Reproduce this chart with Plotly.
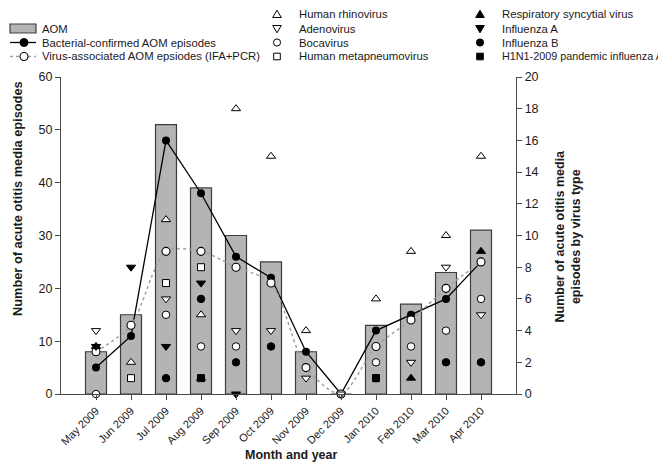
import plotly.graph_objects as go

# ---------------- data ----------------
months = ["May 2009", "Jun 2009", "Jul 2009", "Aug 2009", "Sep 2009", "Oct 2009",
          "Nov 2009", "Dec 2009", "Jan 2010", "Feb 2010", "Mar 2010", "Apr 2010"]
aom = [8, 15, 51, 39, 30, 25, 8, 0, 13, 17, 23, 31]
bacterial = [5, 11, 48, 38, 26, 22, 8, 0, 12, 15, 18, 25]
virus_assoc = [8, 13, 27, 27, 24, 21, 5, 0, 9, 14, 20, 25]

# virus types (right axis)
rhinovirus = [None, 2, 11, 5, 18, 15, 4, None, 6, 9, 10, 15]
adenovirus = [4, None, 6, None, 4, 4, 1, 0, None, 2, 8, 5]
bocavirus = [0, None, 5, 3, 3, None, None, None, 2, 3, 4, 6]
metapneumovirus = [None, 1, 7, 8, None, None, None, None, None, None, None, None]
rsv = [3, None, None, 1, None, None, None, None, None, 1, None, 9]
influenza_a = [3, 8, 3, 7, 0, None, None, None, None, None, None, None]
influenza_b = [None, None, 1, 6, 2, 3, None, None, 1, None, 2, 2]
h1n1 = [None, None, None, 1, None, None, None, None, 1, None, None, None]

left_ticks = [0, 10, 20, 30, 40, 50, 60]
right_ticks = [0, 2, 4, 6, 8, 10, 12, 14, 16, 18, 20]

# ---------------- layout helpers ----------------
W, H = 666, 472
L, R, T, B = 53, 508, 69, 386
FONT = "Liberation Sans, Arial, sans-serif"
INK = "#1a1a1a"


def px_x(px):
    return (px - L) / (R - L)


def px_y(py):
    return (B - py) / (B - T)


x = list(range(len(months)))
fig = go.Figure()

fig.add_trace(go.Bar(
    x=x, y=aom, name="AOM", width=0.6, showlegend=False,
    marker=dict(color="#b4b4b4", line=dict(color="#3c3c3c", width=1.2))))

fig.add_trace(go.Scatter(
    x=x, y=bacterial, name="Bacterial-confirmed AOM episodes", mode="lines+markers",
    line=dict(color="#000000", width=1.3), showlegend=False,
    marker=dict(symbol="circle", size=8, color="#000000"), cliponaxis=False))

fig.add_trace(go.Scatter(
    x=x, y=virus_assoc, name="Virus-associated AOM epsiodes (IFA+PCR)", mode="lines+markers",
    line=dict(color="#a0a0a0", width=1.5, dash="dot", shape="spline", smoothing=0.8),
    marker=dict(symbol="circle", size=8, color="#ffffff", line=dict(color="#000000", width=1.1)),
    cliponaxis=False, showlegend=False))

virus_series = [
    ("Human rhinovirus", rhinovirus, "triangle-up", "#ffffff", 8),
    ("Adenovirus", adenovirus, "triangle-down", "#ffffff", 8),
    ("Bocavirus", bocavirus, "circle", "#ffffff", 7.5),
    ("Human metapneumovirus", metapneumovirus, "square", "#ffffff", 7),
    ("Respiratory syncytial virus", rsv, "triangle-up", "#000000", 8),
    ("Influenza A", influenza_a, "triangle-down", "#000000", 8),
    ("Influenza B", influenza_b, "circle", "#000000", 7.5),
    ("H1N1-2009 pandemic influenza A", h1n1, "square", "#000000", 7),
]

for name, vals, sym, col, size in virus_series:
    fig.add_trace(go.Scatter(
        x=x, y=vals, name=name, mode="markers", yaxis="y2", showlegend=False,
        marker=dict(symbol=sym, size=size, color=col, line=dict(color="#000000", width=1)),
        cliponaxis=False))

# ---------------- legend (keys + labels, paper coordinates) ----------------
shapes = []
annotations = []


def key_path(cx, cy, sym, fill):
    if sym in ("triangle-up", "triangle-down"):
        s = -1 if sym == "triangle-up" else 1
        pts = [(cx, cy + s * 4.3), (cx - 4.3, cy - s * 3.0), (cx + 4.3, cy - s * 3.0)]
        path = "M{},{} L{},{} L{},{} Z".format(*[v for p in pts for v in (px_x(p[0]), px_y(p[1]))])
        return dict(type="path", xref="paper", yref="paper", path=path, fillcolor=fill,
                    line=dict(color="#000000", width=1))
    if sym == "circle":
        r = 3.6
        return dict(type="circle", xref="paper", yref="paper", x0=px_x(cx - r), x1=px_x(cx + r),
                    y0=px_y(cy + r), y1=px_y(cy - r), fillcolor=fill, line=dict(color="#000000", width=1))
    r = 3.3
    return dict(type="rect", xref="paper", yref="paper", x0=px_x(cx - r), x1=px_x(cx + r),
                y0=px_y(cy + r), y1=px_y(cy - r), fillcolor=fill, line=dict(color="#000000", width=1))


def label(text, left_px, cy, size=11.3):
    annotations.append(dict(text=text, xref="paper", yref="paper", x=px_x(left_px - 2), y=px_y(cy),
                            xanchor="left", yanchor="middle", showarrow=False,
                            font=dict(family=FONT, size=size, color=INK)))


# column 1
c1_rows = [20.5, 34.5, 48.5]
shapes.append(dict(type="rect", xref="paper", yref="paper", x0=px_x(2), x1=px_x(28),
                   y0=px_y(c1_rows[0] + 4.5), y1=px_y(c1_rows[0] - 4.5),
                   fillcolor="#b4b4b4", line=dict(color="#3c3c3c", width=1.2)))
label("AOM", 34, c1_rows[0])
shapes.append(dict(type="line", xref="paper", yref="paper", x0=px_x(2), x1=px_x(28),
                   y0=px_y(c1_rows[1]), y1=px_y(c1_rows[1]), line=dict(color="#000000", width=1.3)))
shapes.append(dict(type="circle", xref="paper", yref="paper", x0=px_x(12), x1=px_x(20),
                   y0=px_y(c1_rows[1] + 4), y1=px_y(c1_rows[1] - 4), fillcolor="#000000",
                   line=dict(color="#000000", width=1)))
label("Bacterial-confirmed AOM episodes", 34, c1_rows[1])
shapes.append(dict(type="line", xref="paper", yref="paper", x0=px_x(2), x1=px_x(28),
                   y0=px_y(c1_rows[2]), y1=px_y(c1_rows[2]),
                   line=dict(color="#a0a0a0", width=1.5, dash="dot")))
shapes.append(dict(type="circle", xref="paper", yref="paper", x0=px_x(12), x1=px_x(20),
                   y0=px_y(c1_rows[2] + 4), y1=px_y(c1_rows[2] - 4), fillcolor="#ffffff",
                   line=dict(color="#000000", width=1.1)))
label("Virus-associated AOM epsiodes (IFA+PCR)", 34, c1_rows[2])

# columns 2 and 3
rows = [6.5, 20.5, 34.5, 48.5]
for i, (name, vals, sym, col, size) in enumerate(virus_series):
    key_x, text_x = (269, 291) if i < 4 else (472, 494)
    cy = rows[i % 4]
    shapes.append(key_path(key_x, cy, sym, col))
    label(name, text_x, cy, size=11.3 if i < 7 else 10.8)

# axis titles
title_font = dict(family=FONT, size=12.5, weight="bold", color=INK)
annotations += [
    dict(text="Number of acute otitis media episodes", textangle=-90,
         xref="paper", yref="paper", x=px_x(9), y=px_y(191), xanchor="center", yanchor="middle",
         showarrow=False, font=dict(family=FONT, size=12.8, weight="bold", color=INK)),
    dict(text="Number of acute otitis media<br>episodes by virus type", textangle=-90,
         xref="paper", yref="paper", x=px_x(559.5), y=px_y(228), xanchor="center", yanchor="middle",
         showarrow=False, font=title_font),
    dict(text="Month and year",
         xref="paper", yref="paper", x=px_x(283), y=px_y(447), xanchor="center", yanchor="middle",
         showarrow=False, font=title_font),
]

axis_common = dict(showline=True, linecolor="#4a4a4a", linewidth=1.3, ticks="outside",
                   ticklen=5, tickcolor="#4a4a4a", tickwidth=1.2, showgrid=False, zeroline=False)

fig.update_layout(
    width=W, height=H,
    margin=dict(l=L, r=W - R, t=T, b=H - B, autoexpand=False),
    paper_bgcolor="#ffffff", plot_bgcolor="#ffffff",
    showlegend=False,
    bargap=0.4,
    xaxis=dict(range=[-1, 12], tickvals=x, ticktext=months, tickangle=-45,
               tickfont=dict(family=FONT, size=11, color=INK), **axis_common),
    yaxis=dict(range=[0, 60], tickvals=left_ticks,
               tickfont=dict(family=FONT, size=12.5, color=INK), **axis_common),
    yaxis2=dict(range=[0, 20], tickvals=right_ticks, overlaying="y", side="right", anchor="x",
                tickfont=dict(family=FONT, size=12.5, color=INK), **axis_common),
    shapes=shapes,
    annotations=annotations,
)

fig.write_html("out.html")
